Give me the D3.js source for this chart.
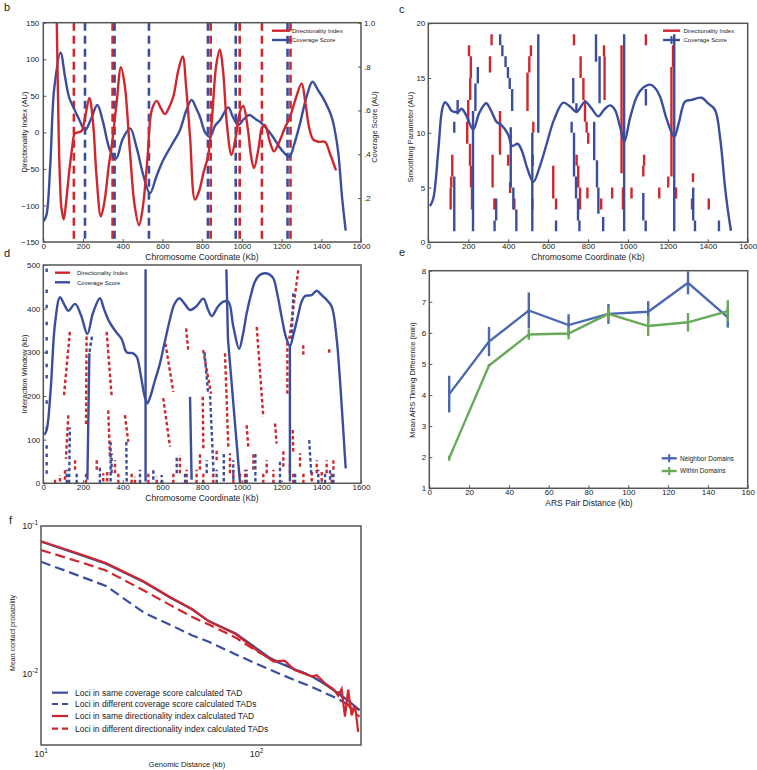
<!DOCTYPE html>
<html><head><meta charset="utf-8">
<script src="https://cdn.jsdelivr.net/npm/d3@7"></script>
<style>body{margin:0;background:#fff}svg{display:block;font-family:"Liberation Sans",Arial,sans-serif}</style>
</head><body><svg id="c" width="757" height="770"></svg>
<script>
// ---------- Panel b data ----------
const bDiKb  = [63,68,74,82,92,103,115,130,145,158,175,193,210,232,250,268,290,308,330,344,369,391,410,437,460,482,500,524,546,571,592,613,635,655,680,702,720,739,764,785,806,831,850,870,889,905,925,948,970,990,1007,1030,1045,1061,1085,1100,1116,1140,1162,1190,1215,1242,1270,1301,1320,1340,1360,1390,1418,1445,1474];
const bDiVal = [200,150,50,-50,-105,-119,-95,-55,-22,-2,0,2,20,47,15,-60,-115,-95,-45,-20,40,89,65,-29,-100,-127,-105,-38,30,43,33,25,35,49,85,104,60,-6,-92,-80,-56,-31,20,90,113,85,10,-31,-5,28,36,5,-30,-49,-20,5,10,-12,-26,-12,5,21,45,67,40,5,-10,-13,-13,-30,-52];
const bCovKb  = [0,15,35,55,87,110,130,151,180,210,240,272,300,335,366,400,437,470,505,537,570,604,645,688,720,747,770,789,815,839,865,890,932,955,982,1010,1037,1070,1100,1150,1200,1239,1265,1293,1325,1356,1385,1410,1452,1470,1486,1505,1523];
const bCovVal = [0.093,0.12,0.35,0.7,0.863,0.75,0.66,0.615,0.56,0.51,0.56,0.625,0.55,0.42,0.38,0.47,0.518,0.43,0.3,0.222,0.3,0.374,0.44,0.51,0.6,0.648,0.61,0.571,0.5,0.48,0.53,0.556,0.614,0.57,0.534,0.56,0.579,0.56,0.541,0.488,0.42,0.389,0.45,0.541,0.66,0.731,0.69,0.655,0.571,0.5,0.404,0.2,0.052];
const bRedBounds  = [154,349,843,989,1101,1245];
const bBlueBounds = [210,359,532,829,969,1230];
const bLeftTicks  = [-150,-100,-50,0,50,100,150];
const bRightTicks = [0.2,0.4,0.6,0.8,1.0];
const bRightLabels = [".2",".4",".6",".8","1.0"];
const kbTicks = [0,200,400,600,800,1000,1200,1400,1600];

// ---------- Panel c data ----------
const cKb  = [8,25,50,70,84,100,117,134,150,167,190,225,255,290,315,342,367,401,420,448,470,495,526,560,593,630,676,710,743,785,815,852,880,910,935,960,982,1010,1044,1075,1111,1140,1161,1195,1232,1255,1286,1320,1370,1400,1436,1462,1486,1500,1516];
const cVal = [3.3,4.0,8.4,12.2,12.8,12.5,12.0,11.9,11.9,12.2,11.6,10.3,11.8,12.7,12.0,11.0,10.7,9.8,8.8,9.0,8.3,6.8,5.5,7.0,9.0,11.2,12.75,12.4,11.9,12.85,12.3,11.5,12.1,12.5,12.1,10.6,9.2,11.3,13.3,14.1,14.4,14.0,13.3,11.2,9.65,10.9,12.85,13.0,13.2,12.7,12.1,9.5,5.1,3.0,1.06];
const cBlueRuns = [[130,1,6],[130,10,11],[147,11.7,13],[224,1,12],[236,12,14.5],[248,14.5,16],[332,1,2],[340,2,4],
 [360,18,19],[371,17,18],[387,16,17],[399,15,16],[408,14,15],[420,12,14],[413,5,10.5],[426,3,5],[441,1,3],
 [521,1,10],[551,10,19],[640,1,2],[718,10,11],[726,12.7,15],[742,12,12.7],[730,6,10],[740,4,6],[750,2,4],[757,1,2],
 [840,16.5,19],[858,12.7,17],[831,7.5,11],[845,5,7.5],[852,2.6,5],[876,1,2.3],[981,1,19],
 [1090,12.5,14],[1077,2,4.5],[1089,1,2],[1232,1,19],[1327,2,5],[1336,1,2],[1456,1,2]];
const cRedRuns = [[120,6,8],[115,5,6],[112,3,5],[204,17,18],[213,15,17],[210,13,15],[200,11,13],[195,9,11],[209,7,9],[214,5,7],[219,3,5],
 [317,18,19],[309,15.5,17],[359,8,12],[322,5,8],[331,3,4],[400,7,8],[410,4.5,5.5],[431,3,4],
 [514,17,18],[506,15.5,17],[497,12,15.5],[526,10,11],[523,7,8],[521,3,4],[626,4,7],[640,3,4],
 [730,18,19],[763,15,17],[777,13,15],[785,11,13],[793,10,11],[801,9,10],[743,7,8],[751,5,7],[760,3,5],[797,4,5],
 [866,3,4],[880,17,18],[883,13,17],[921,4,5],[968,6.3,18],[975,3,5],[1018,4,5],[1090,18,19],[1081,7,8],[1077,6,7],
 [1157,4,5],[1226,16,18],[1218,6,16],[1202,5,6],[1241,4,5],[1326,5.5,6.3],[1321,3,4],[1405,3,4]];
const cTicks = [0,5,10,15,20];

// ---------- Panel d data ----------
const dKb  = [5,17,37,59,84,105,126,160,190,222,250,285,305,330,361,395,420,450,470,490,510,524,540,560,585,610,635,660,685,710,739,770,806,828,848,880,907,932,957,986,1005,1024,1045,1066,1090,1117,1140,1159,1180,1200,1222,1242,1262,1284,1300,1318,1351,1377,1400,1419,1452,1478,1492,1503,1515,1523];
const dVal = [111,122,214,366,426,410,395,411,385,342,390,424,400,372,350,330,300,298,290,250,200,183,200,232,270,320,370,410,424,412,397,405,423,400,383,405,416,416,359,308,340,389,430,462,477,481,478,469,430,382,335,315,345,386,415,429,431,441,432,424,405,328,250,176,90,34];
const dRedTracks = [[134,347,104,201],[126,156,114,56],[218,336,215,130],[319,347,344,201],[327,167,336,56],[411,156,428,95],
 [615,320,655,209],[604,195,638,84],[719,355,730,305],[805,305,845,205],[803,198,806,79],[915,298,932,79],
 [1075,358,1108,152],[1024,133,1033,79],[1167,137,1175,91],[1229,323,1229,201],[1284,488,1239,331],[1256,122,1259,69],
 [1309,316,1310,289],[1440,307,1440,299],
 [59,0,59,11],[84,4,84,19],[109,8,109,31],[160,31,160,53],[215,0,215,23],[269,31,269,57],[302,4,302,23],[322,4,322,31],
 [361,23,361,53],[378,0,378,23],[445,0,445,23],[462,0,462,15],[529,0,529,27],[571,0,571,15],[655,0,655,23],[688,23,688,65],
 [722,0,722,31],[772,0,772,31],[789,31,789,69],[806,0,806,23],[856,0,856,31],[873,53,873,76],[940,23,940,69],[957,0,957,31],
 [991,0,991,23],[1016,0,1016,31],[1058,31,1058,69],[1108,0,1108,23],[1125,23,1125,53],[1159,0,1159,31],[1209,38,1209,76],
 [1242,23,1242,53],[1259,0,1259,23],[1293,38,1293,69],[1310,0,1310,23],[1352,4,1352,31],[1377,23,1377,53],[1402,4,1402,31],
 [1427,23,1427,53],[1452,0,1452,23],[1461,31,1461,53]];
const dBlueTracks = [[130,0,134,128],[245,336,232,298],[339,4,339,95],[420,4,418,95],[812,300,830,205],[840,200,858,20],
 [1259,435,1251,331],[1339,99,1350,18],[909,4,909,70],[1068,4,1068,72],
 [118,0,118,31],[168,0,168,23],[285,0,285,38],[344,23,344,69],[487,0,487,31],[554,8,554,31],[596,0,596,19],[672,23,672,61],
 [714,0,714,23],[823,23,823,53],[873,0,873,31],[957,8,957,53],[1024,0,1024,31],[1192,0,1192,53],[1268,0,1268,23],
 [1385,0,1385,31],[1419,0,1419,23],[1444,8,1444,31],[1461,0,1461,27]];
const dBlueLong = [[232,298,222,8],[515,4,515,490],[747,8,739,198],[922,490,930,330],[930,330,990,4],[1242,318,1242,4]];
const dBlueSparseKb = 17;
const dBlueSparse = [488,440,405,366,331,300,270,244,186,126,83,64,45,26];
const dTicks = [0,100,200,300,400,500];

// ---------- Panel e data ----------
const eDist = [10,30,50,70,90,110,130,150];
const eNeighbor = [4.03,5.72,6.72,6.25,6.61,6.68,7.61,6.5];
const eNeighborErr = [0.59,0.47,0.58,0.35,0.32,0.34,0.37,0.33];
const eWithin = [1.97,4.95,5.95,5.98,6.61,6.22,6.34,6.70];
const eWithinErr = [0.08,0.05,0.17,0.19,0.19,0.32,0.3,0.35];
const eXTicks = [0,20,40,60,80,100,120,140,160];
const eYTicks = [1,2,3,4,5,6,7,8];

// ---------- Panel f data ----------
const fDist = [10,15,20,30,40,50,60,80,100,120,150,180,210,240,270,300];
const fSameCov = [0.0784,0.0644,0.0557,0.0419,0.0327,0.0276,0.0229,0.0189,0.0150,0.0124,0.01086,0.00975,0.00848,0.00745,0.00654,0.00575];
const fDiffCov = [0.0575,0.0462,0.0395,0.0261,0.0215,0.0184,0.0166,0.01365,0.0118,0.01052,0.00916,0.00826,0.00745,0.00682,0.00615,0.0058];
const fDiffDI  = [0.0689,0.0575,0.0502,0.0368,0.0292,0.0245,0.0217,0.0177,0.01436,0.01256,0.01086,0.00975,0.00857,0.00757,0.00605,0.00519];
const fSameDIDist = [10,15,20,30,40,50,60,80,100,110,120,135,150,180,190,210,230,239,248,257,266,276,286,296];
const fSameDI = [0.079,0.065,0.0563,0.0423,0.033,0.0276,0.0228,0.0187,0.0146,0.0133,0.0122,0.0124,0.0107,0.0097,0.0099,0.0086,0.0078,0.0072,0.0080,0.0052,0.0079,0.0053,0.0062,0.0041];
const fLegend = ["Loci in same coverage score calculated TAD","Loci in different coverage score calculated TADs","Loci in same directionality index calculated TAD","Loci in different directionality index calculated TADs"];

// ---------- drawing ----------
const RED = "#d0272e", BLUE = "#3b4e9e", EBLUE = "#4c68b0", EGREEN = "#68a95a", FRAME = "#555", TXT = "#222";
const fmt = d3.format("d");
const svg = d3.select("#c");
svg.append("rect").attr("width",757).attr("height",770).attr("fill","#fff");
const defs = svg.append("defs");
let clipN = 0;
function clip(x0,y0,x1,y1){ const id="cl"+(clipN++); defs.append("clipPath").attr("id",id).append("rect").attr("x",x0).attr("y",y0).attr("width",x1-x0).attr("height",y1-y0); return "url(#"+id+")"; }
function frame(x0,y0,x1,y1){ svg.append("rect").attr("x",x0).attr("y",y0).attr("width",x1-x0).attr("height",y1-y0).attr("fill","none").attr("stroke",FRAME).attr("stroke-width",1.5); }
function styleAxis(g, fs){ g.select(".domain").remove(); g.selectAll("line").attr("stroke",FRAME); g.selectAll("text").attr("fill",TXT).style("font-size",fs+"px").style("font-family","Liberation Sans, Arial, sans-serif"); }
function text(x,y,s,fs,opts={}){ const t=svg.append("text").attr("x",x).attr("y",y).text(s).attr("fill",TXT).style("font-size",fs+"px");
  if(opts.anchor) t.attr("text-anchor",opts.anchor); if(opts.rot) t.attr("transform",`rotate(${opts.rot},${x},${y})`); if(opts.weight) t.style("font-weight",opts.weight); return t; }
const cr = d3.curveCatmullRom.alpha(0.5);
const bottomAxis = (x)=>d3.axisBottom(x).tickValues(kbTicks).tickFormat(fmt).tickSizeInner(-3).tickSizeOuter(0).tickPadding(1.5);

// ===== Panel b =====
{
 const x = d3.scaleLinear().domain([0,1600]).range([43.3,361]);
 const yL = d3.scaleLinear().domain([-150,150]).range([242,22.7]);
 const yR = d3.scaleLinear().domain([0,1]).range([242,22.7]);
 const cp = clip(43.3,22.7,361,242);
 const g = svg.append("g").attr("clip-path",cp);
 const bounds = g.append("g");
 bRedBounds.forEach(v=>bounds.append("line").attr("x1",x(v)).attr("x2",x(v)).attr("y1",yL(150)).attr("y2",yL(-150)).attr("stroke",RED).attr("stroke-width",2.6).attr("stroke-dasharray","8,5"));
 bBlueBounds.forEach(v=>bounds.append("line").attr("x1",x(v)).attr("x2",x(v)).attr("y1",yL(150)).attr("y2",yL(-150)).attr("stroke",BLUE).attr("stroke-width",2.6).attr("stroke-dasharray","8,5"));
 g.append("path").datum(bCovKb.map((k,i)=>[k,bCovVal[i]])).attr("d",d3.line().x(d=>x(d[0])).y(d=>yR(d[1])).curve(cr)).attr("fill","none").attr("stroke",BLUE).attr("stroke-width",2.4);
 g.append("path").datum(bDiKb.map((k,i)=>[k,bDiVal[i]])).attr("d",d3.line().x(d=>x(d[0])).y(d=>yL(d[1])).curve(cr)).attr("fill","none").attr("stroke",RED).attr("stroke-width",2.4);
 frame(43.3,22.7,361,242);
 styleAxis(svg.append("g").attr("transform","translate(0,242)").call(bottomAxis(x)),8);
 styleAxis(svg.append("g").attr("transform","translate(43.3,0)").call(d3.axisLeft(yL).tickValues(bLeftTicks).tickFormat(fmt).tickSizeInner(-3).tickSizeOuter(0).tickPadding(4)),8);
 styleAxis(svg.append("g").attr("transform","translate(361,0)").call(d3.axisRight(yR).tickValues(bRightTicks).tickFormat((d,i)=>bRightLabels[i]).tickSizeInner(-3).tickSizeOuter(0).tickPadding(3)),8);
 text(202,259.5,"Chromosome Coordinate (Kb)",8.5,{anchor:"middle"});
 text(27,132,"Directionality Index (AU)",7.5,{anchor:"middle",rot:-90});
 text(377,127,"Coverage Score (AU)",7.5,{anchor:"middle",rot:-90});
 svg.append("line").attr("x1",272).attr("x2",290).attr("y1",30.7).attr("y2",30.7).attr("stroke",RED).attr("stroke-width",2.4);
 svg.append("line").attr("x1",272).attr("x2",290).attr("y1",40).attr("y2",40).attr("stroke",BLUE).attr("stroke-width",2.4);
 text(292,33,"Directionality Index",6);
 text(292,42.3,"Coverage Score",6);
 text(4,11,"b",11);
}

// ===== Panel c =====
{
 const x = d3.scaleLinear().domain([0,1600]).range([428.3,747.7]);
 const y = d3.scaleLinear().domain([0,20]).range([242.3,23.3]);
 const g = svg.append("g").attr("clip-path",clip(428.3,23.3,747.7,242.3));
 cRedRuns.forEach(r=>g.append("line").attr("x1",x(r[0])).attr("x2",x(r[0])).attr("y1",y(r[1])).attr("y2",y(r[2])).attr("stroke",RED).attr("stroke-width",2.4));
 cBlueRuns.forEach(r=>g.append("line").attr("x1",x(r[0])).attr("x2",x(r[0])).attr("y1",y(r[1])).attr("y2",y(r[2])).attr("stroke",BLUE).attr("stroke-width",2.4));
 g.append("path").datum(cKb.map((k,i)=>[k,cVal[i]])).attr("d",d3.line().x(d=>x(d[0])).y(d=>y(d[1])).curve(cr)).attr("fill","none").attr("stroke",BLUE).attr("stroke-width",2.4);
 frame(428.3,23.3,747.7,242.3);
 styleAxis(svg.append("g").attr("transform","translate(0,242.3)").call(bottomAxis(x)),8);
 styleAxis(svg.append("g").attr("transform","translate(428.3,0)").call(d3.axisLeft(y).tickValues(cTicks).tickFormat(fmt).tickSizeInner(-3).tickSizeOuter(0).tickPadding(3)),8);
 text(588,260,"Chromosome Coordinate (Kb)",8.5,{anchor:"middle"});
 text(413,137,"Smoothing Parameter (AU)",7.5,{anchor:"middle",rot:-90});
 svg.append("line").attr("x1",663).attr("x2",680).attr("y1",30.7).attr("y2",30.7).attr("stroke",RED).attr("stroke-width",2.4);
 svg.append("line").attr("x1",663).attr("x2",680).attr("y1",40).attr("y2",40).attr("stroke",BLUE).attr("stroke-width",2.4);
 svg.append("line").attr("x1",671.5).attr("x2",671.5).attr("y1",36).attr("y2",44).attr("stroke",BLUE).attr("stroke-width",2);
 text(683.5,33,"Directionality Index",6);
 text(683.5,42.3,"Coverage Score",6);
 text(399,13,"c",11);
}

// ===== Panel d =====
{
 const x = d3.scaleLinear().domain([0,1600]).range([43.3,361]);
 const y = d3.scaleLinear().domain([0,500]).range([483.3,265]);
 const g = svg.append("g").attr("clip-path",clip(43.3,265,361,483.3));
 const seg = (t,col,dash)=>g.append("line").attr("x1",x(t[0])).attr("y1",y(t[1])).attr("x2",x(t[2])).attr("y2",y(t[3])).attr("stroke",col).attr("stroke-width",2.4).attr("stroke-dasharray",dash);
 dRedTracks.forEach(t=>seg(t,RED,"3.5,2.5"));
 dBlueTracks.forEach(t=>seg(t,BLUE,"3.5,2.5"));
 dBlueLong.forEach(t=>seg(t,BLUE,null));
 dBlueSparse.forEach(v=>seg([dBlueSparseKb,v-4,dBlueSparseKb,v+4],BLUE,null));
 g.append("path").datum(dKb.map((k,i)=>[k,dVal[i]])).attr("d",d3.line().x(d=>x(d[0])).y(d=>y(d[1])).curve(cr)).attr("fill","none").attr("stroke",BLUE).attr("stroke-width",2.4);
 frame(43.3,265,361,483.3);
 styleAxis(svg.append("g").attr("transform","translate(0,483.3)").call(bottomAxis(x)),8);
 styleAxis(svg.append("g").attr("transform","translate(43.3,0)").call(d3.axisLeft(y).tickValues(dTicks).tickFormat(fmt).tickSizeInner(-3).tickSizeOuter(0).tickPadding(3)),8);
 text(202,501,"Chromosome Coordinate (Kb)",8.5,{anchor:"middle"});
 text(27,374,"Interaction Window (kb)",7.5,{anchor:"middle",rot:-90});
 svg.append("line").attr("x1",55).attr("x2",70).attr("y1",272.7).attr("y2",272.7).attr("stroke",RED).attr("stroke-width",2.4);
 svg.append("line").attr("x1",55).attr("x2",70).attr("y1",282.3).attr("y2",282.3).attr("stroke",BLUE).attr("stroke-width",2.4);
 text(77,275,"Directionality Index",6);
 text(77,284.6,"Coverage Score",6);
 text(4,257,"d",11);
}

// ===== Panel e =====
{
 const x = d3.scaleLinear().domain([0,160]).range([429.3,747.7]);
 const y = d3.scaleLinear().domain([1,8]).range([488.3,270.7]);
 const g = svg.append("g");
 const series = [[eNeighbor,eNeighborErr,EBLUE],[eWithin,eWithinErr,EGREEN]];
 series.forEach(([vals,errs,col])=>{
  g.append("path").datum(eDist.map((d,i)=>[d,vals[i]])).attr("d",d3.line().x(d=>x(d[0])).y(d=>y(d[1]))).attr("fill","none").attr("stroke",col).attr("stroke-width",2.4);
  eDist.forEach((d,i)=>g.append("line").attr("x1",x(d)).attr("x2",x(d)).attr("y1",y(vals[i]-errs[i])).attr("y2",y(vals[i]+errs[i])).attr("stroke",col).attr("stroke-width",2.4));
 });
 frame(429.3,270.7,747.7,488.3);
 styleAxis(svg.append("g").attr("transform","translate(0,488.3)").call(d3.axisBottom(x).tickValues(eXTicks).tickFormat(fmt).tickSizeInner(-3).tickSizeOuter(0).tickPadding(1.5)),8);
 styleAxis(svg.append("g").attr("transform","translate(429.3,0)").call(d3.axisLeft(y).tickValues(eYTicks).tickFormat(fmt).tickSizeInner(-3).tickSizeOuter(0).tickPadding(3)),8);
 text(589,506,"ARS Pair Distance (kb)",8.5,{anchor:"middle"});
 text(415,380,"Mean ARS Timing Difference (min)",7.5,{anchor:"middle",rot:-90});
 [[EBLUE,458.3,"Neighbor Domains"],[EGREEN,471,"Within Domains"]].forEach(([c,yy,s])=>{
  svg.append("line").attr("x1",661.7).attr("x2",676.7).attr("y1",yy).attr("y2",yy).attr("stroke",c).attr("stroke-width",2.4);
  svg.append("line").attr("x1",669.2).attr("x2",669.2).attr("y1",yy-4).attr("y2",yy+4).attr("stroke",c).attr("stroke-width",2.2);
  text(680,yy+2.4,s,6.5);
 });
 text(399,256,"e",11);
}

// ===== Panel f =====
{
 const x = d3.scaleLog().domain([10,305]).range([41,361]);
 const y = d3.scaleLog().domain([0.00335,0.1]).range([745,526]);
 const g = svg.append("g").attr("clip-path",clip(41,526,361,745));
 const ln = d3.line().x(d=>x(d[0])).y(d=>y(d[1]));
 const draw = (xs,ys,col,dash)=>g.append("path").datum(xs.map((d,i)=>[d,ys[i]])).attr("d",ln).attr("fill","none").attr("stroke",col).attr("stroke-width",2.2).attr("stroke-dasharray",dash);
 draw(fDist,fDiffCov,BLUE,"10,5");
 draw(fDist,fDiffDI,RED,"10,5");
 draw(fDist,fSameCov,BLUE,null);
 draw(fSameDIDist,fSameDI,RED,null);
 frame(41,526,361,745);
 const sup = (xx,yy,base,exp,anchor)=>{ const t=svg.append("text").attr("x",xx).attr("y",yy).attr("fill",TXT).style("font-size","9px").attr("text-anchor",anchor);
   t.append("tspan").text(base); t.append("tspan").text(exp).attr("dy",-4).style("font-size","6.5px"); };
 [[0.1,"-1"],[0.01,"-2"]].forEach(([v,e])=>sup(38,y(v)+3,"10",e,"end"));
 [[10,"1"],[100,"2"]].forEach(([v,e])=>sup(x(v),757,"10",e,"middle"));
 text(187,766.5,"Genomic Distance (kb)",7.5,{anchor:"middle"});
 text(15,633,"Mean contact probability",7,{anchor:"middle",rot:-90});
 const lc = [[BLUE,null],[BLUE,"6,4"],[RED,null],[RED,"6,4"]];
 const ly = [692.7,704,716,728.7];
 fLegend.forEach((s,i)=>{
  svg.append("line").attr("x1",52).attr("x2",68).attr("y1",ly[i]).attr("y2",ly[i]).attr("stroke",lc[i][0]).attr("stroke-width",2.2).attr("stroke-dasharray",lc[i][1]);
  text(75,ly[i]+3,s,8.5);
 });
 text(9,524,"f",11);
}
</script></body></html>
